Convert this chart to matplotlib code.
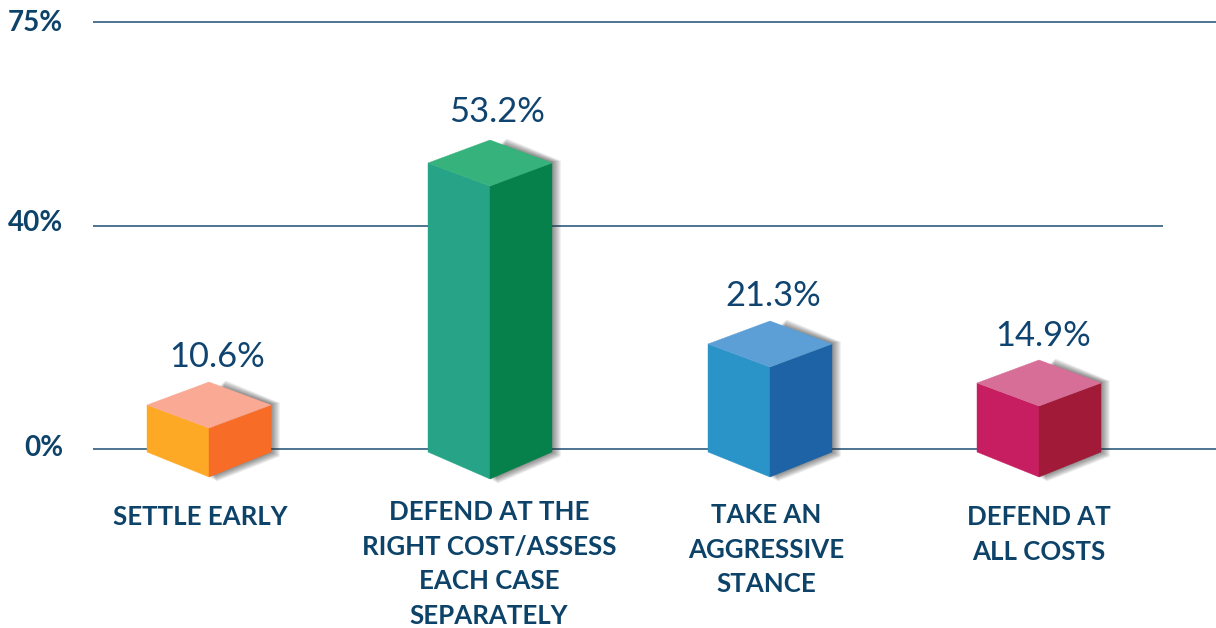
""" 3D style bar chart of litigation strategy shares """
import numpy as np
import matplotlib
matplotlib.use('Agg')
import matplotlib.pyplot as plt
from matplotlib.patches import Polygon
from matplotlib.transforms import IdentityTransform

plt.rcParams['font.family'] = ['Lato', 'DejaVu Sans']

# chart data
categories = [
    ['SETTLE EARLY'],
    ['DEFEND AT THE', 'RIGHT COST/ASSESS', 'EACH CASE', 'SEPARATELY'],
    ['TAKE AN', 'AGGRESSIVE', 'STANCE'],
    ['DEFEND AT', 'ALL COSTS'],
]
values = [10.6, 53.2, 21.3, 14.9]
tick_values = [0, 40, 75]
tick_labels = ['0%', '40%', '75%']

top_colors = ['#F9A994', '#36B27C', '#5B9FD6', '#D76E97']
left_colors = ['#FDA925', '#27A487', '#2A93C8', '#C61E60']
right_colors = ['#F76D27', '#07814B', '#1D63A5', '#A11B38']

# the picture's value axis is not linear, so it is given as a scale (value -> pixels over baseline)
scale_values = [-40, 0, 10.6, 14.9, 21.3, 40, 53.2, 75, 80]
scale_pixels = [-179, 0, 44, 66, 105, 223, 286, 427, 449]


def forward(v):
    return np.interp(v, scale_values, scale_pixels)


def inverse(p):
    return np.interp(p, scale_pixels, scale_values)


# layout in pixels
WIDTH, HEIGHT = 1216, 628
bar_x = [209, 490, 770, 1039]
value_x = [217, 497, 773, 1043]
value_gap = [25, 28, 25, 24]
label_x = [200.5, 489, 766, 1039]
label_y = [517, 512, 515, 517]
line_ends = [1216, 1163, 1216]
tick_dy = [2, 4, 0]
half_w = 62
rise = 23
foot = 3
dip = [28, 30, 28, 28]
line_gap = 34.5
text_color = '#0F4470'
label_color = '#0D4269'
line_color = '#1C5073'

fig = plt.figure(figsize=(WIDTH / 100, HEIGHT / 100), dpi=100)
ax = fig.add_axes([0, 0, 1, 1])
ax.set_yscale('function', functions=(forward, inverse))
ax.set_xlim(0, WIDTH)
ax.set_ylim(-40, 80)
ax.axis('off')

# grid lines
for tick, end in zip(tick_values, line_ends):
    ax.hlines(tick, 93, end, color=line_color, linewidth=1.1, zorder=1)

# tick labels
for tick, text, dy in zip(tick_values, tick_labels, tick_dy):
    ax.annotate(text, (63, tick), xytext=(0, dy * 0.72 - 0.7), textcoords='offset points',
                ha='right', va='center', fontsize=20, fontweight='bold', color=label_color)


def add_face(points, color, z, alpha=1.0):
    ax.add_patch(Polygon(points, closed=True, facecolor=color, edgecolor=color if alpha == 1.0 else 'none',
                         linewidth=0.3, alpha=alpha, transform=IdentityTransform(), zorder=z))


for i, value in enumerate(values):
    cx = bar_x[i]
    # display position of the front top corners and of the baseline
    base = ax.transData.transform((cx, 0))[1]
    top = ax.transData.transform((cx, value))[1]
    left = cx - half_w
    right = cx + half_w

    # soft shadow, stack of see through outlines
    for grow in np.arange(0, 12, 0.6):
        shadow = [(cx + 10, top), (cx + 10 + grow * 0.6, top + rise - 4 + grow * 0.5),
                  (right + grow * 0.8, top + 1 + grow * 0.1),
                  (right + grow * 0.8, base - foot - grow * 0.4),
                  (cx + grow * 0.7, base - dip[i] - grow * 0.4), (cx, base - foot)]
        add_face(shadow, '#303030', 2, alpha=0.035)

    add_face([(left, top), (cx, top - rise), (cx, base - dip[i]), (left, base - foot)], left_colors[i], 3)
    add_face([(cx, top - rise), (right, top), (right, base - foot), (cx, base - dip[i])], right_colors[i], 3)
    add_face([(left, top), (cx, top + rise), (right, top), (cx, top - rise)], top_colors[i], 4)

    # value label above the bar
    ax.text(value_x[i], top + rise + value_gap[i], f'{value}%', transform=IdentityTransform(),
            ha='center', va='center', fontsize=24.8, color=text_color, zorder=5)

    # category label, line by line
    for n, line in enumerate(categories[i]):
        ax.text(label_x[i], HEIGHT - label_y[i] - n * line_gap, line, transform=IdentityTransform(),
                ha='center', va='center', fontsize=18.6, fontweight='bold', color=label_color, zorder=5)

fig.savefig('out.png', dpi=100)
